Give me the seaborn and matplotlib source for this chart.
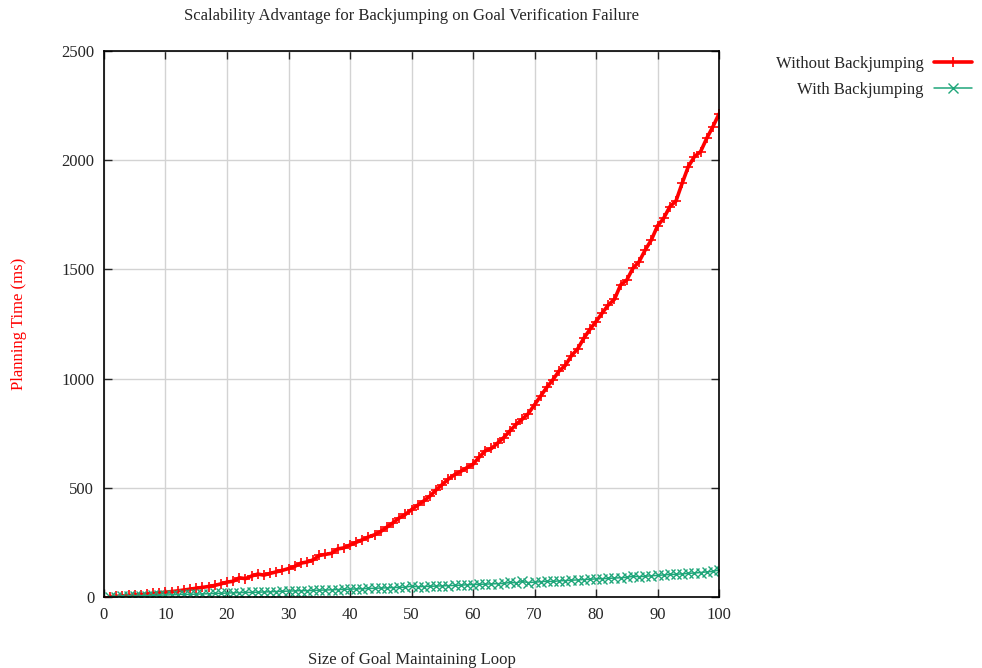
import numpy as np
import pandas as pd
import seaborn as sns
import matplotlib
matplotlib.use("Agg")
import matplotlib.pyplot as plt

sns.set_style("ticks")
plt.rcParams['font.family'] = ['Liberation Serif', 'DejaVu Serif']
plt.rcParams['font.size'] = 12

# ## Data
loop_size = list(range(1, 101))

without_bj = [
    2, 3, 5, 7, 9, 11, 13, 16, 19, 22,
    25, 28, 32, 36, 40, 44, 48, 53, 60, 68,
    72, 88, 84, 96, 105, 100, 108, 115, 122, 130,
    140, 155, 160, 170, 190, 195, 200, 220, 225, 238,
    250, 262, 275, 285, 300, 320, 340, 362, 378, 400,
    420, 440, 462, 490, 515, 540, 560, 575, 592, 608,
    640, 669, 680, 705, 730, 760, 790, 814, 840, 880,
    920, 960, 995, 1035, 1060, 1105, 1135, 1184, 1225, 1261,
    1300, 1337, 1363, 1429, 1451, 1505, 1535, 1589, 1635, 1699,
    1734, 1787, 1813, 1894, 1970, 2016, 2039, 2100, 2153, 2212,
]

with_bj = [
    1, 2, 3, 3, 4, 5, 6, 7, 8, 9,
    10, 11, 12, 12, 13, 14, 15, 16, 17, 18,
    19, 20, 21, 21, 22, 23, 24, 25, 26, 27,
    28, 29, 29, 30, 31, 32, 33, 34, 35, 36,
    37, 38, 39, 40, 41, 42, 43, 44, 45, 50,
    47, 48, 49, 50, 51, 52, 53, 54, 56, 57,
    58, 59, 60, 61, 62, 67, 65, 71, 66, 68,
    70, 72, 71, 74, 75, 77, 78, 80, 81, 83,
    84, 85, 87, 88, 90, 95, 93, 95, 97, 99,
    101, 103, 104, 106, 108, 110, 112, 115, 117, 124,
]

df = pd.DataFrame({'loop': loop_size, 'without': without_bj, 'with': with_bj})

# ## Graph data
fig = plt.figure(figsize=(9.82, 6.68), dpi=100)
ax = fig.add_axes([0.1059, 0.1063, 0.6263, 0.8174])

red = '#ff0000'
green = '#1fa67a'
sns.lineplot(data=df, x='loop', y='without', ax=ax, color=red, lw=2.6,
             marker='+', markersize=7, mew=1.2, markeredgecolor=red,
             label='Without Backjumping')
sns.lineplot(data=df, x='loop', y='with', ax=ax, color=green, lw=1.1,
             marker='x', markersize=6.5, mew=1.0, markeredgecolor=green,
             label='With Backjumping')

ax.set_xlim(0, 100)
ax.set_ylim(0, 2500)
ax.set_xticks(range(0, 101, 10))
ax.set_yticks(range(0, 2501, 500))
ax.grid(True, color='#d3d3d3', lw=1.0)
ax.set_axisbelow(True)
ax.tick_params(direction='in', top=True, right=True, length=6, width=1, labelsize=12, pad=7)
for s in ax.spines.values():
    s.set_linewidth(1.2)
    s.set_color('black')

ax.set_title("Scalability Advantage for Backjumping on Goal Verification Failure", fontsize=12, pad=22)
ax.set_xlabel("Size of Goal Maintaining Loop", fontsize=12, labelpad=21)
ax.set_ylabel("Planning Time (ms)", fontsize=12, color=red)
ax.yaxis.set_label_coords(-0.125, 0.5)

ax.legend_.remove()
h, l = ax.get_legend_handles_labels()
fig.legend(h, l, loc='upper right', bbox_to_anchor=(0.99, 0.916), frameon=False,
           markerfirst=False, fontsize=12, handlelength=2.3, handletextpad=0.6,
           labelspacing=0.6, borderpad=0, borderaxespad=0)

fig.savefig('out.png', dpi=100)
